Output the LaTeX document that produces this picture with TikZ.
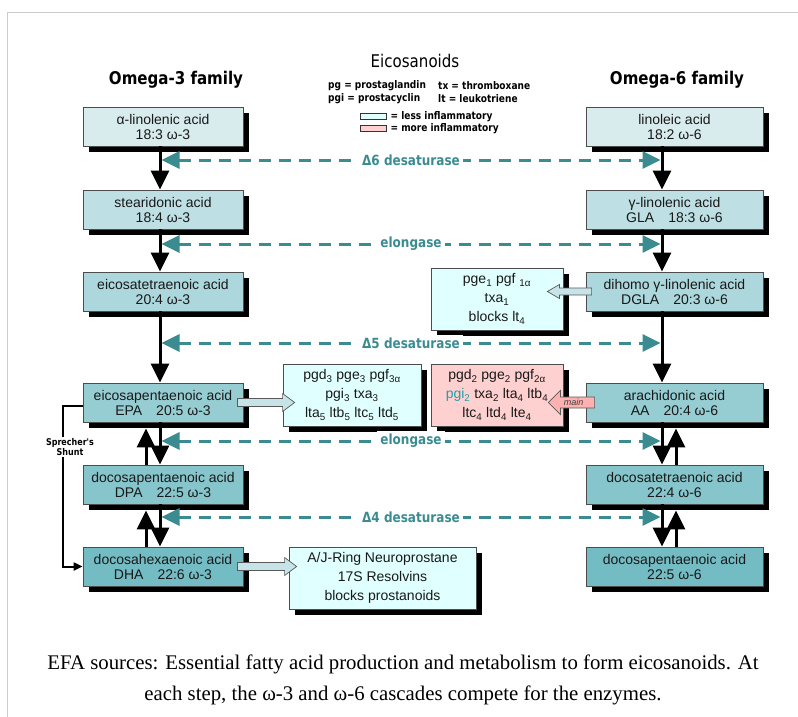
\documentclass[tikz,border=0pt]{standalone}
\usepackage{fontspec}
\setmainfont{Liberation Sans}
\newfontfamily\condfont[FakeStretch=0.86]{DejaVu Sans}
\newfontfamily\capfont{Liberation Serif}
\usepackage{tikz}
\usetikzlibrary{calc, positioning, shadows, arrows.meta}

\definecolor{acidA}{RGB}{216,236,238}
\definecolor{acidB}{RGB}{190,224,228}
\definecolor{acidC}{RGB}{172,215,220}
\definecolor{acidD}{RGB}{150,205,211}
\definecolor{acidE}{RGB}{134,197,203}
\definecolor{acidF}{RGB}{116,188,195}
\definecolor{enzteal}{RGB}{58,140,145}
\definecolor{pgiteal}{RGB}{30,160,170}
\definecolor{lessinfl}{RGB}{224,255,255}
\definecolor{moreinfl}{RGB}{255,208,208}
\definecolor{fatblue}{RGB}{198,228,232}
\definecolor{fatpink}{RGB}{255,176,176}

\newcommand{\idx}[1]{\textsubscript{#1}}

\begin{document}
\begin{tikzpicture}[x=1pt, y=-1pt,
  acid/.style={draw=black!70, line width=0.8pt, inner sep=0pt, minimum height=39pt,
               align=center, text=black!90, font=\fontsize{14}{15}\selectfont,
               drop shadow={shadow xshift=6pt, shadow yshift=-6pt, fill=black, opacity=1}},
  eico/.style={acid, minimum height=62pt, font=\fontsize{14}{19}\selectfont},
  conv/.style={line width=3pt, -{Triangle[length=19pt, width=18pt]}},
  enzyme/.style={enzteal, line width=3pt, dash pattern=on 12pt off 8pt,
                 {Triangle[length=18pt, width=17pt]}-{Triangle[length=18pt, width=17pt]}},
  enzlabel/.style={fill=white, text=enzteal, inner sep=3pt,
                   font=\condfont\bfseries\fontsize{14}{16}\selectfont},
  legend/.style={inner sep=1pt, font=\condfont\bfseries\fontsize{10.5}{12}\selectfont},
  swatch/.style={draw=black!80, line width=0.8pt, minimum width=26pt, minimum height=6pt, inner sep=0pt},
  family/.style={font=\condfont\bfseries\fontsize{17.5}{20}\selectfont},
  fat/.style n args={3}{draw=black!65, line width=0.7pt, to path={
      let \p1=(\tikztostart), \p2=(\tikztotarget), \n1={sign(\x2-\x1)} in
      (\x1,\y1+#1) -- ({\x2-(\n1)*#3},\y1+#1) -- ({\x2-(\n1)*#3},\y1+#2) -- (\x2,\y1)
      -- ({\x2-(\n1)*#3},\y1-#2) -- ({\x2-(\n1)*#3},\y1-#1) -- (\x1,\y1-#1) -- cycle}}]

  \useasboundingbox (0,0) rectangle (798,717);
  \draw[black!20, line width=1pt] (7,717) -- (7,13) -- (798,13);

  \node[font=\condfont\fontsize{17.5}{20}\selectfont] (title) at (415,61) {Eicosanoids};
  \node[family] (om3) at (176,80) {Omega-3 family};
  \node[family] (om6) at (677,80) {Omega-6 family};

  \node[legend, anchor=west] (pg) at (327,86) {pg = prostaglandin};
  \node[legend, anchor=west] (tx) at (437,86) {tx = thromboxane};
  \node[legend, anchor=west] (pgi) at (327,99) {pgi = prostacyclin};
  \node[legend, anchor=west] (lt) at (437,99) {lt = leukotriene};
  \node[swatch, fill=lessinfl] (less) at (373,116.5) {};
  \node[legend, right=3pt of less] (lesstxt) {= less inflammatory};
  \node[swatch, fill=moreinfl] (more) at (373,128.5) {};
  \node[legend, right=3pt of more] (moretxt) {= more inflammatory};

  \foreach \y/\shade/\txt [count=\n] in {
      126.5/acidA/{α-linolenic acid\\18:3 ω-3},
      209.5/acidB/{stearidonic acid\\18:4 ω-3},
      291.5/acidC/{eicosatetraenoic acid\\20:4 ω-3},
      402.5/acidD/{eicosapentaenoic acid\\EPA\quad 20:5 ω-3},
      484.5/acidE/{docosapentaenoic acid\\DPA\quad 22:5 ω-3},
      566.5/acidF/{docosahexaenoic acid\\DHA\quad 22:6 ω-3}} {
    \node[acid, fill=\shade, minimum width=160pt] (l\n) at (163,\y) {\txt};
  }

  \foreach \y/\shade/\txt [count=\n] in {
      126.5/acidA/{linoleic acid\\18:2 ω-6},
      209.5/acidB/{γ-linolenic acid\\GLA\quad 18:3 ω-6},
      291.5/acidC/{dihomo γ-linolenic acid\\DGLA\quad 20:3 ω-6},
      402.5/acidD/{arachidonic acid\\AA\quad 20:4 ω-6},
      484.5/acidE/{docosatetraenoic acid\\22:4 ω-6},
      566.5/acidF/{docosapentaenoic acid\\22:5 ω-6}} {
    \node[acid, fill=\shade, minimum width=177pt] (r\n) at (674.5,\y) {\txt};
  }

  \node[eico, fill=lessinfl, minimum width=132pt] (m1) at (497,299)
    {pge\idx{1} pgf \idx{1α}\\txa\idx{1}\\blocks lt\idx{4}};
  \node[eico, fill=lessinfl, minimum width=138pt] (m2) at (352,395)
    {pgd\idx{3} pge\idx{3} pgf\idx{3α}\\pgi\idx{3} txa\idx{3}\\lta\idx{5} ltb\idx{5} ltc\idx{5} ltd\idx{5}};
  \node[eico, fill=moreinfl, minimum width=132pt] (m3) at (497,395)
    {pgd\idx{2} pge\idx{2} pgf\idx{2α}\\{\color{pgiteal}pgi\idx{2}} txa\idx{2} lta\idx{4} ltb\idx{4}\\ltc\idx{4} ltd\idx{4} lte\idx{4}};
  \node[eico, fill=lessinfl, minimum width=187pt] (m4) at (382.5,578)
    {A/J-Ring Neuroprostane\\17S Resolvins\\blocks prostanoids};

  \coordinate (downL) at (160,0);
  \coordinate (upL) at (146,0);
  \coordinate (downR) at (662,0);
  \coordinate (upR) at (676,0);

  \foreach \a/\b in {1/2, 2/3, 3/4, 4/5, 5/6} {
    \draw[conv] (l\a.south -| downL) -- (l\b.north -| downL);
    \draw[conv] (r\a.south -| downR) -- (r\b.north -| downR);
  }
  \foreach \a/\b in {4/5, 5/6} {
    \draw[conv] (l\b.north -| upL) -- ($(l\a.south -| upL)+(0,6)$);
    \draw[conv] (r\b.north -| upR) -- ($(r\a.south -| upR)+(0,6)$);
  }

  \foreach \y/\enz [count=\n] in {160/Δ6 desaturase, 244/elongase, 343/Δ5 desaturase,
                                  441/elongase, 517/Δ4 desaturase} {
    \coordinate (e\n L) at (161.5,\y);
    \coordinate (e\n R) at (660.5,\y);
    \draw[enzyme] (e\n L) -- node[enzlabel] (lbl\n) {\enz} (e\n R);
  }

  \draw[fat={3.5pt}{7pt}{12pt}, fill=fatblue] ([xshift=6pt]r3.west) to ([xshift=-16pt]m1.east);
  \draw[fat={4pt}{9pt}{12pt}, fill=fatblue] ([xshift=-6pt]l4.east) to ([xshift=12pt]m2.west);
  \draw[fat={5.5pt}{12pt}{12pt}, fill=fatpink] ([xshift=9pt]r4.west) to ([xshift=-15pt]m3.east);
  \draw[fat={4pt}{9pt}{12pt}, fill=fatblue] ([xshift=-6pt]l6.east) to ([xshift=8pt]m4.west);
  \node[font=\itshape\fontsize{9}{10}\selectfont, text=black!75] (mainlbl) at ($(r4.west)+(-12,0)$) {main};

  \draw[line width=2pt, -{Triangle[length=9pt, width=8pt]}] ([yshift=-3pt]l4.west) -- ++(-20,0) |- (l6.west);
  \node[fill=white, inner sep=1pt, align=center, font=\condfont\bfseries\fontsize{9.3}{10}\selectfont]
    (shuntlbl) at (70,447) {Sprecher's\\Shunt};

  \node[align=center, font=\capfont\fontsize{20.8}{31}\selectfont] (cap) at (403,680)
    {EFA sources: Essential fatty acid production and metabolism to form eicosanoids. At\\each step, the ω-3 and ω-6 cascades compete for the enzymes.};

\end{tikzpicture}
\end{document}
